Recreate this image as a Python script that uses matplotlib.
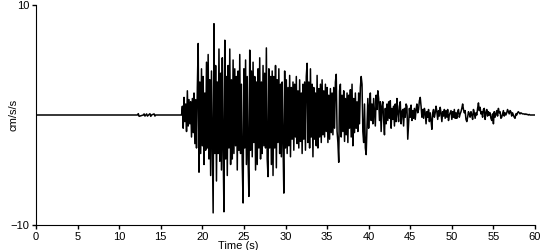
import numpy as np
import matplotlib
matplotlib.use('Agg')
import matplotlib.pyplot as plt

plt.rcParams['font.family'] = ['Liberation Sans', 'DejaVu Sans']

# quiet part before the event (a few tiny blips around 12-14 s)
quiet_t = [0.0, 12.2, 12.3, 12.4, 12.9, 13.0, 13.1, 13.3, 13.4, 13.7, 13.8, 13.9, 14.2, 14.3, 14.4, 17.5]
quiet_a = [0.0, 0.0, 0.12, -0.12, 0.0, 0.1, -0.1, 0.1, -0.1, 0.12, -0.12, 0.0, 0.1, -0.1, 0.0, 0.0]

# strong motion, sampled every 0.1 s starting at 17.6 s (cm/s/s)
accel = [
    0.8, -1.2, 1.6, -0.6, 1.0, -1.5, 2.2, -1.0, 1.4, -0.8,
    1.2, -2.0, 1.5, -1.6, 2.0, -2.6, 1.4, -3.0, 2.5, 6.5,
    -5.2, 3.0, -3.5, 4.2, -2.8, 3.5, -4.5, 2.0, -3.2, 4.8,
    -3.0, 5.5, -4.0, 3.2, -5.5, 4.0, -2.5, -8.9, 8.3, -3.5,
    4.5, -6.0, 3.0, -3.5, 6.0, -4.2, 3.8, -5.0, 5.2, -3.0,
    -8.8, 6.8, -4.0, 3.5, -5.5, 4.5, -3.0, 6.0, -4.5, 3.2,
    -4.0, 5.0, -3.5, 4.2, -2.8, 3.5, -5.0, 4.0, -3.2, 5.5,
    -3.5, 2.8, -4.5, -8.0, 4.2, -3.0, 5.0, -4.5, 3.5, -4.0,
    -7.4, 5.9, -3.2, 4.0, -3.8, 4.8, -2.5, 3.5, -5.0, 3.0,
    -4.5, 4.2, -3.0, 5.2, -4.0, 3.0, -3.5, 4.5, -2.8, 3.8,
    -3.0, 6.1, -4.0, -5.6, 4.2, -3.0, 3.5, -4.5, 4.0, -5.5,
    3.5, -3.0, 4.5, -4.8, 3.2, -2.5, 4.2, -3.5, 2.8, -3.8,
    3.0, -2.5, -7.1, 4.0, -3.0, 3.2, -3.5, 2.5, -2.8, 3.6,
    -3.8, 2.5, -2.2, 3.0, -3.2, 2.8, -2.0, 3.5, -2.6, 2.2,
    -3.0, 3.2, -2.4, 2.0, -3.5, 2.8, -2.2, 3.0, -3.2, 3.5,
    4.7, -2.5, 3.0, -3.0, 4.2, -2.0, 2.8, -3.8, 2.5, -2.2,
    2.0, -2.8, 3.6, -3.0, 2.4, -2.0, 2.8, -2.5, 3.2, -1.8,
    2.2, -2.0, 2.8, -1.5, 2.5, -2.5, 1.8, -2.2, 2.4, -1.6,
    2.0, -1.8, 2.5, -1.2, 3.0, 3.7, -1.5, -2.5, -4.3, 2.2,
    2.8, -2.0, 1.8, -1.5, 2.2, -2.4, 1.5, -1.8, 2.0, -2.5,
    1.8, -1.2, 2.3, -2.0, 2.8, -2.8, 1.5, -1.6, 2.0, -1.2,
    1.2, -1.5, 2.0, -0.8, 2.5, 3.5, 2.8, -1.5, -2.5, 1.0,
    -3.0, -3.6, -1.0, 1.5, -1.2, 0.8, 2.0, -0.5, 1.0, -0.8,
    1.5, 0.2, -1.0, 1.8, 0.5, 2.2, 1.5, -0.5, 1.2, -1.5,
    0.8, 1.2, -0.5, -1.8, 0.6, -0.8, 1.0, -0.5, 1.2, -0.3,
    1.3, -1.2, 0.6, -0.4, 0.8, -1.0, 1.0, -0.6, 1.5, 0.2,
    -0.6, 0.8, 1.2, -0.8, 0.3, 0.5, -1.0, 0.6, -0.2, 1.0,
    0.8, -2.2, -0.8, 0.6, -0.2, 0.9, -0.5, 0.4, -0.3, 0.6,
    -0.4, 0.5, 1.0, 0.2, 0.5, 1.3, 1.6, 0.8, -0.2, 0.5,
    -0.3, 0.6, 0.2, -0.8, 0.3, -0.2, 0.5, -0.6, 0.2, -0.5,
    -1.3, 0.2, 0.5, -0.2, 0.2, 0.8, 0.3, -0.4, 0.4, -0.1,
    0.7, 0.2, -0.6, 0.3, -0.1, 0.5, -0.3, 0.4, -0.2, 0.5,
    -0.5, 0.0, 0.2, 0.4, -0.4, 0.3, -0.2, 0.5, -0.3, 0.2,
    -0.3, 0.3, 0.5, -0.2, 0.1, 0.3, 0.6, 1.0, 0.5, 0.2,
    0.4, -0.4, -0.6, -0.2, 0.3, 0.1, -0.2, 0.3, 0.0, -0.4,
    0.5, 0.2, -0.3, 0.2, 0.0, 0.6, 1.1, 0.4, 0.7, 0.1,
    0.3, -0.2, 0.5, 0.6, -0.4, 0.2, 0.5, -0.1, 0.3, 0.0,
    0.2, -0.3, -0.5, 0.1, -0.8, 0.3, -0.2, 0.1, 0.4, -0.1,
    0.6, 0.2, 0.3, -0.3, -0.2, 0.1, 0.4, -0.1, 0.2, 0.0,
    0.2, 0.5, 0.3, 0.1, 0.4, 0.3, -0.1, 0.2, 0.0, -0.2,
    -0.3, 0.1, 0.0, 0.2, 0.3, 0.2, 0.1, 0.2, 0.15, 0.1,
    0.1, 0.1, 0.05, 0.1, 0.05, 0.05, 0.0, 0.05, 0.0, 0.0,
    0.0, 0.0, 0.0, 0.0, 0.0,
]
strong_t = np.round(17.6 + 0.1 * np.arange(len(accel)), 2)

time = np.concatenate([quiet_t, strong_t])
acc = np.concatenate([quiet_a, accel])

fig = plt.figure(figsize=(5.5, 2.5), dpi=100)
ax = fig.add_axes([36/550, 0.1, 499/550, 0.88])
ax.plot(time, acc, color='black', lw=1.1)

ax.set_xlim(0, 60)
ax.set_ylim(-10, 10)
ax.set_xticks(np.arange(0, 61, 5))
ax.set_yticks([-10, 10])
ax.tick_params(direction='out', length=3, width=1, labelsize=8, pad=2)
ax.spines['top'].set_visible(False)
ax.spines['right'].set_visible(False)
ax.set_xlabel('Time (s)', fontsize=8, labelpad=0)
ax.xaxis.set_label_coords((238-36)/499, -0.072)
ax.set_ylabel('cm/s/s', fontsize=8)
ax.yaxis.set_label_coords(-0.036, 0.5)

fig.savefig('out.png')
